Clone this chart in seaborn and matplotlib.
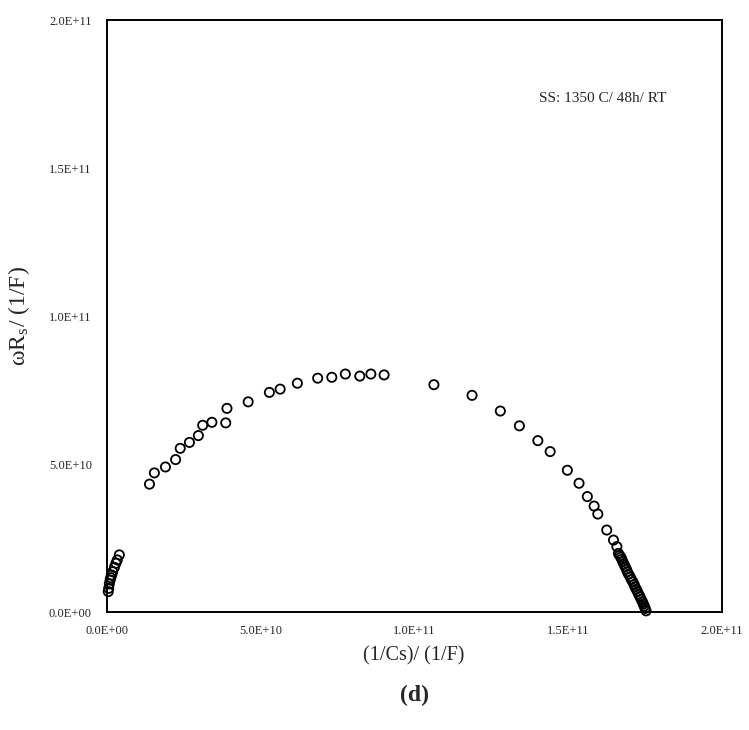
import matplotlib
matplotlib.use('Agg')
import matplotlib.pyplot as plt
import seaborn as sns
import pandas as pd

# valores (en unidades de 1e9, 1/F)
inv_cs = [0.4, 0.55, 0.75, 1.0, 1.2, 1.5, 1.85, 2.4, 2.9, 3.35, 4.0,
          13.8, 15.4, 19.0, 22.3, 23.8, 26.8, 29.7, 31.1, 34.1, 38.6, 39.0,
          45.9, 52.8, 56.3, 61.9, 68.5, 73.1, 77.5, 82.2, 85.8, 90.1,
          106.3, 118.7, 127.9, 134.1, 140.1, 144.1, 149.7, 153.5, 156.2,
          158.4, 159.6, 162.5, 164.7, 165.8, 166.3, 166.7, 167.1, 167.4,
          167.7, 168.1, 168.5, 168.9, 169.2, 169.6, 170.1, 170.5, 171.0,
          171.4, 171.7, 172.1, 172.5, 172.9, 173.3, 173.7, 174.1, 174.4,
          174.7, 175.0, 175.3]
w_rs = [6.9, 8.0, 9.5, 10.8, 11.6, 12.5, 13.6, 15.1, 16.5, 17.6, 19.3,
        43.2, 47.0, 49.0, 51.5, 55.3, 57.3, 59.6, 63.1, 64.1, 63.9, 68.8,
        71.0, 74.2, 75.3, 77.3, 79.0, 79.3, 80.4, 79.7, 80.4, 80.1,
        76.8, 73.2, 67.9, 62.9, 57.9, 54.2, 47.9, 43.5, 39.0,
        35.8, 33.1, 27.7, 24.3, 22.1, 19.8, 19.1, 18.5, 17.8,
        17.0, 16.2, 15.3, 14.5, 13.6, 12.8, 11.9, 11.0, 10.2,
        9.3, 8.5, 7.7, 6.9, 6.0, 5.2, 4.3, 3.5, 2.7,
        2.0, 1.2, 0.4]

x_ticks = [0, 5e10, 1e11, 1.5e11, 2e11]
x_tick_labels = ['0.0E+00', '5.0E+10', '1.0E+11', '1.5E+11', '2.0E+11']
y_ticks = [0, 5e10, 1e11, 1.5e11, 2e11]
y_tick_labels = ['0.0E+00', '5.0E+10', '1.0E+11', '1.5E+11', '2.0E+11']

df = pd.DataFrame({'x': [v * 1e9 for v in inv_cs], 'y': [v * 1e9 for v in w_rs]})

sns.set_style('white')
plt.rcParams['font.family'] = ['Liberation Serif', 'DejaVu Serif']
plt.rcParams['mathtext.fontset'] = 'stix'

fig = plt.figure(figsize=(7.49, 7.30), dpi=100)
ax = fig.add_axes([0.1429, 0.1616, 0.8211, 0.811])

sns.scatterplot(data=df, x='x', y='y', ax=ax, marker='o', s=44,
                facecolor='none', edgecolor='black', linewidth=1.3, clip_on=False)

ax.set_xlim(0, 2e11)
ax.set_ylim(0, 2e11)
ax.set_xticks(x_ticks)
ax.set_xticklabels(x_tick_labels, fontsize=9)
ax.set_yticks(y_ticks)
ax.set_yticklabels(y_tick_labels, fontsize=9)
ax.tick_params(axis='x', length=0, pad=9)
ax.tick_params(axis='y', length=0, pad=11)

for sp in ax.spines.values():
    sp.set_color('black')
    sp.set_linewidth(1.4)

ax.set_xlabel('(1/Cs)/ (1/F)', fontsize=14.5)
ax.xaxis.set_label_coords(0.499, -0.057)
ax.set_ylabel(r'ωR$_\mathregular{s}$/ (1/F)', fontsize=17)
ax.yaxis.set_label_coords(-0.122, 0.5)

ax.text(1.405e11, 1.736e11, 'SS: 1350 C/ 48h/ RT', fontsize=11, va='center', ha='left')

fig.text(0.553, 0.048, '(d)', fontsize=17, fontweight='bold', ha='center', va='center')

fig.savefig('out.png', dpi=100)
